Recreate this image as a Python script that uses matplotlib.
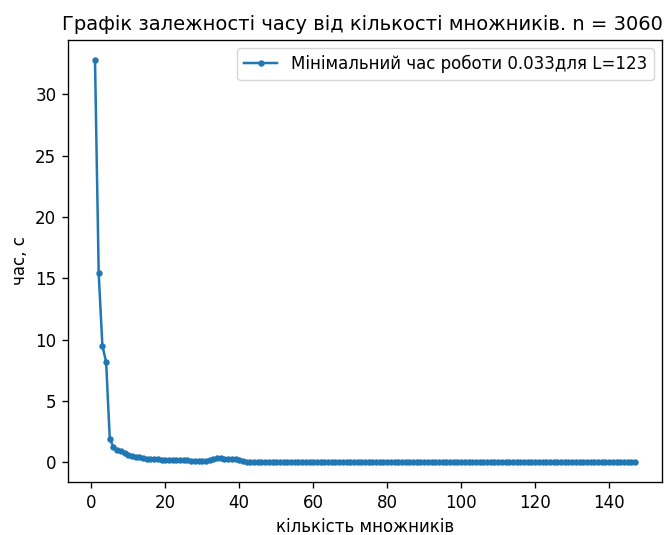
import matplotlib
matplotlib.use("Agg")
import matplotlib.pyplot as plt

L_values = list(range(1, 148))
times = [
    # L = 1..42
    32.8, 15.4, 9.5, 8.2, 1.9, 1.25, 1.0, 0.95, 0.75, 0.6,
    0.5, 0.45, 0.4, 0.35, 0.3, 0.28, 0.25, 0.3, 0.2, 0.2,
    0.18, 0.18, 0.17, 0.16, 0.17, 0.15, 0.12, 0.08, 0.07, 0.08,
    0.12, 0.18, 0.25, 0.32, 0.33, 0.28, 0.27, 0.25, 0.24, 0.22,
    0.12, 0.06,
    # L = 43..52
    0.048, 0.046, 0.047, 0.045, 0.044, 0.046, 0.043, 0.045, 0.044, 0.042,
    # L = 53..62
    0.043, 0.044, 0.042, 0.041, 0.043, 0.042, 0.040, 0.041, 0.042, 0.040,
    # L = 63..72
    0.039, 0.041, 0.040, 0.039, 0.040, 0.038, 0.039, 0.040, 0.038, 0.039,
    # L = 73..82
    0.037, 0.038, 0.039, 0.037, 0.038, 0.036, 0.037, 0.038, 0.036, 0.037,
    # L = 83..92
    0.036, 0.035, 0.037, 0.036, 0.035, 0.036, 0.035, 0.036, 0.037, 0.035,
    # L = 93..102
    0.036, 0.035, 0.034, 0.036, 0.035, 0.034, 0.035, 0.036, 0.035, 0.034,
    # L = 103..112
    0.035, 0.034, 0.036, 0.035, 0.034, 0.035, 0.034, 0.035, 0.036, 0.034,
    # L = 113..122
    0.035, 0.034, 0.035, 0.034, 0.035, 0.036, 0.034, 0.035, 0.034, 0.035,
    # L = 123..132
    0.033, 0.034, 0.035, 0.034, 0.035, 0.036, 0.035, 0.034, 0.035, 0.036,
    # L = 133..142
    0.035, 0.036, 0.035, 0.034, 0.035, 0.036, 0.035, 0.036, 0.035, 0.034,
    # L = 143..147
    0.035, 0.036, 0.035, 0.036, 0.035,
]
best_time = 0.033
best_L = 123

title = "Графік залежності часу від кількості множників. n = 3060"
xlabel = "кількість множників"
ylabel = "час, с"
legend_label = f"Мінімальний час роботи {best_time}для L={best_L}"

s = 1.2
plt.rcParams.update({
    "font.size": 10 * s,
    "axes.linewidth": 0.8 * s,
    "xtick.major.size": 3.5 * s,
    "ytick.major.size": 3.5 * s,
    "xtick.major.width": 0.8 * s,
    "ytick.major.width": 0.8 * s,
    "xtick.major.pad": 3.5 * s,
    "ytick.major.pad": 3.5 * s,
    "axes.titlepad": 6 * s,
    "axes.labelpad": 4 * s,
})

fig = plt.figure(figsize=(6.72, 5.35), dpi=100)
ax = fig.add_axes([68 / 672, 1 - 482 / 535, (662 - 68) / 672, (482 - 40) / 535])
ax.plot(L_values, times, marker=".", color="#1f77b4", linewidth=1.5 * s,
        markersize=6 * s, label=legend_label)
ax.set_title(title, fontsize=14.0, x=0.495)
ax.set_xlabel(xlabel)
ax.set_ylabel(ylabel)
ax.legend(loc="upper right")
fig.savefig("out.png", dpi=100)
